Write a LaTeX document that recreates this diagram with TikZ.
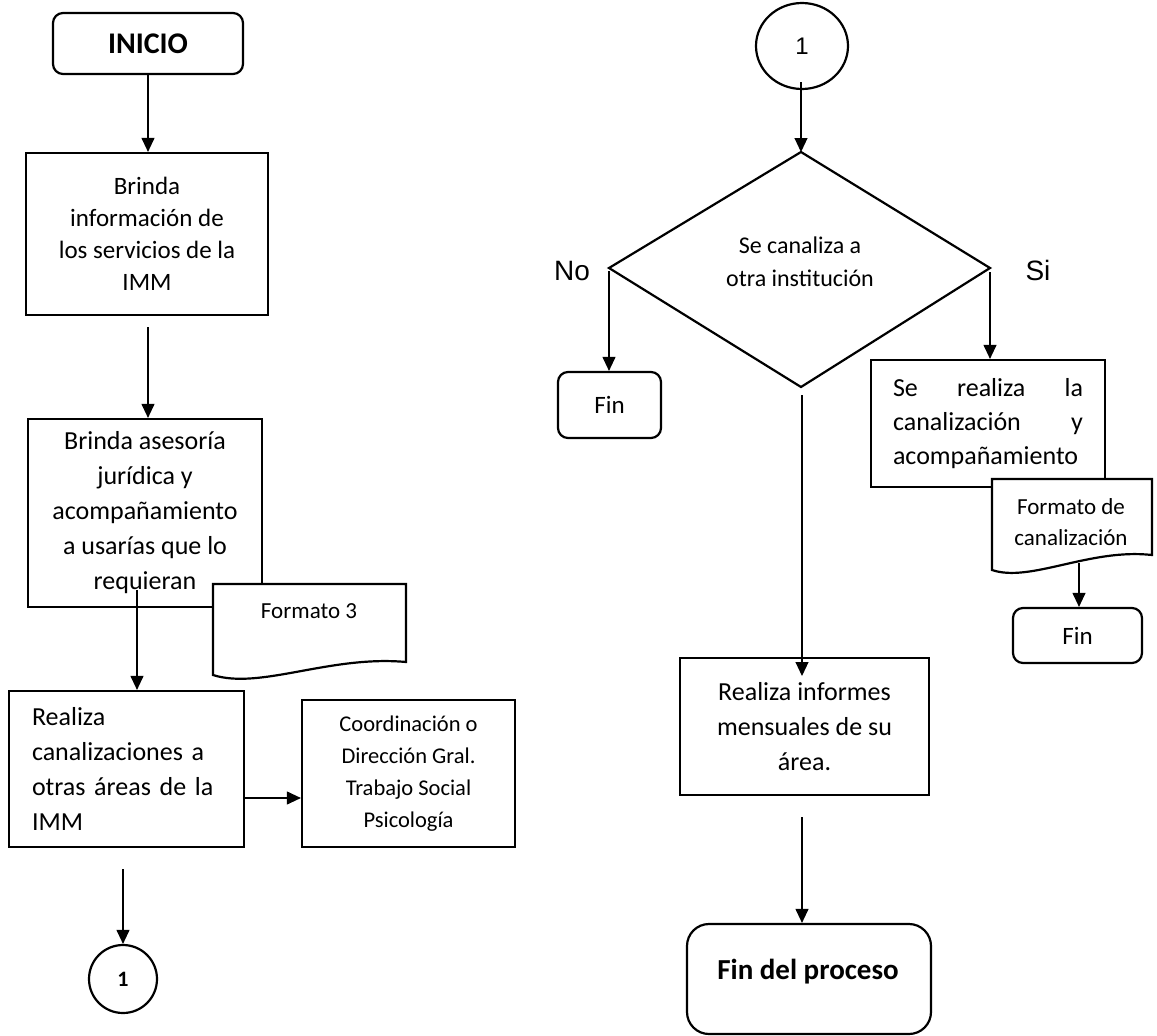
\documentclass[tikz,border=0pt]{standalone}
\usepackage{fontspec}
\setmainfont{Carlito}
\newfontfamily\arialf{Liberation Sans}
\usetikzlibrary{arrows.meta,shapes.geometric}
\begin{document}
\begin{tikzpicture}[x=1pt,y=-1pt]
\tikzset{
 pbox/.style={draw, line width=2.2pt, rectangle, inner sep=0pt, align=center, fill=white},
 tbox/.style={pbox, rounded corners=10pt},
 arr/.style={line width=1.1pt, -{Triangle[length=14pt,width=13pt]}},
 docshape/.style={draw, line width=2.2pt, fill=white, line join=miter},
 ftxt/.style={font=\fontsize{26}{35}\selectfont},
}
\useasboundingbox (0,0) rectangle (1157,1036);

% ---------- left column ----------
\node[tbox, minimum width=190, minimum height=61, font=\bfseries\fontsize{30}{36}\selectfont] (inicio) at (148,43.5) {INICIO};
\node[pbox, minimum width=242, minimum height=162, font=\fontsize{25}{32}\selectfont] (b1) at (147,234) {Brinda\\información de\\los servicios de la\\IMM};
\node[pbox, minimum width=234, minimum height=188, ftxt] (b2) at (145,513) {Brinda asesoría\\jurídica y\\acompañamiento\\a usarías que lo\\requieran};
\draw[docshape] (213,584) -- (406,584) -- (406,662) .. controls (330,655) and (260,690) .. (213,675) -- cycle;
\node[font=\fontsize{23}{28}\selectfont, anchor=base] (f3) at (309,618) {Formato 3};
\node[pbox, minimum width=235, minimum height=156, ftxt, text width=189, align=left] (b3) at (126.5,769) {Realiza\\canalizaciones a\\otras áreas de la\\IMM};
\node[pbox, minimum width=213, minimum height=147, font=\fontsize{22.5}{32}\selectfont] (coord) at (408.5,773.5) {Coordinación o\\Dirección Gral.\\Trabajo Social\\Psicología};
\node[circle, draw, line width=2.2pt, minimum size=68, inner sep=0pt, font=\bfseries\fontsize{22}{26}\selectfont] (c1) at (123,979) {1};

% ---------- right column ----------
\node[ellipse, draw, line width=2.2pt, minimum width=92, minimum height=86, inner sep=0pt, font=\arialf\fontsize{24}{28}\selectfont] (c2) at (802,46) {1};
\coordinate (dT) at (801,152);
\coordinate (dL) at (609,268);
\coordinate (dR) at (990,268);
\coordinate (dB) at (801,387);
\draw[line width=2.2pt, line join=miter] (dT) -- (dR) -- (dB) -- (dL) -- cycle;
\node[font=\fontsize{24}{33}\selectfont, align=center] (dtext) at (800,262) {Se canaliza a\\otra institución};
\node[font=\arialf\fontsize{28}{32}\selectfont, anchor=base] (no) at (572,280) {No};
\node[font=\arialf\fontsize{28}{32}\selectfont, anchor=base] (si) at (1038,280) {Si};

\node[tbox, minimum width=103, minimum height=66, font=\fontsize{25}{30}\selectfont] (fin1) at (609.5,405) {Fin};
\node[pbox, minimum width=234, minimum height=127, font=\fontsize{26}{34}\selectfont, text width=190, align=left] (sr) at (988,423.5) {Se\hfill realiza\hfill la\\canalización\hfill y\\acompañamiento};
\draw[docshape] (992,479) -- (1152,479) -- (1152,555) .. controls (1090,548) and (1030,583) .. (992,570) -- cycle;
\node[font=\fontsize{23}{31}\selectfont, align=center] (f2) at (1071,522) {Formato de\\canalización};
\node[tbox, minimum width=129, minimum height=55, font=\fontsize{25}{30}\selectfont] (fin2) at (1077.5,635.5) {Fin};
\node[pbox, minimum width=249, minimum height=137, ftxt] (inf) at (804.5,726.5) {Realiza informes\\mensuales de su\\área.};
\node[tbox, rounded corners=22pt, minimum width=244, minimum height=110] (finp) at (809,979) {};
\node[font=\bfseries\fontsize{29}{34}\selectfont, anchor=base] (finpt) at (808,979) {Fin del proceso};

% ---------- connectors ----------
\draw[arr] (inicio.south) -- (b1.north -| inicio.south);
\coordinate (a1) at (148,327);
\draw[arr] (a1) -- (b2.north -| a1);
\coordinate (a2) at (137,590);
\draw[arr] (a2) -- (b3.north -| a2);
\coordinate (a3) at (245,798);
\draw[arr] (a3) -- (coord.west |- a3);
\coordinate (a4) at (123,869);
\draw[arr] (a4) -- (c1.north);
\coordinate (a5) at (801,82);
\draw[arr] (a5) -- (dT);
\coordinate (a9) at (609,271);
\draw[arr] (a9) -- (fin1.north -| a9);
\coordinate (a10) at (990,272);
\draw[arr] (a10) -- (sr.north -| a10);
\coordinate (a6) at (802,395);
\coordinate (a6e) at (802,676);
\draw[arr] (a6) -- (a6e);
\coordinate (a7) at (802,817);
\draw[arr] (a7) -- (finp.north -| a7);
\coordinate (a8) at (1079,563);
\draw[arr] (a8) -- (fin2.north -| a8);
\end{tikzpicture}
\end{document}
